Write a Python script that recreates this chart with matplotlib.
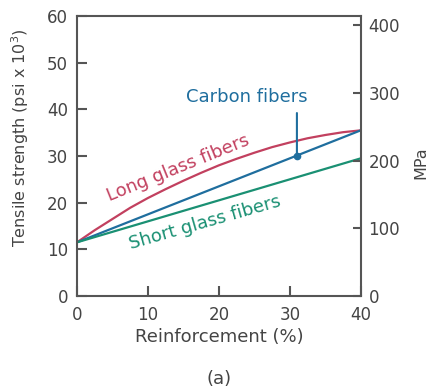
import matplotlib
matplotlib.use("Agg")
import matplotlib.pyplot as plt

plt.rcParams['font.family'] = ['DejaVu Sans']

# Data (ksi = psi x 10^3)
reinf = [0, 2.5, 5, 7.5, 10, 12.5, 15, 17.5, 20, 22.5, 25, 27.5, 30, 32.5, 35, 37.5, 40]
long_glass = [11.5, 14.1, 16.5, 18.9, 21.0, 22.9, 24.7, 26.4, 28.0, 29.4, 30.7,
              31.9, 32.9, 33.8, 34.5, 35.1, 35.5]
carbon_x = [0, 40]
carbon = [11.5, 35.5]
short_x = [0, 40]
short_glass = [11.5, 29.5]
carbon_marker = (31, 30)
ksi_to_mpa = 6.895

xticks = [0, 10, 20, 30, 40]
yticks = [0, 10, 20, 30, 40, 50, 60]
mpa_ticks = [0, 100, 200, 300, 400]

red = '#c2405f'
blue = '#1f6e9e'
green = '#1a9073'
axc = '#555555'
txt = '#444444'

fig = plt.figure(figsize=(4.3, 3.9), dpi=100)
ax = fig.add_axes([0.179, 0.241, 0.660, 0.718])

ax.plot(reinf, long_glass, color=red, lw=1.6)
ax.plot(carbon_x, carbon, color=blue, lw=1.6)
ax.plot(short_x, short_glass, color=green, lw=1.6)
ax.plot([carbon_marker[0]], [carbon_marker[1]], 'o', color=blue, ms=4.5)
ax.annotate('', xy=carbon_marker, xytext=(carbon_marker[0], 39.8),
            arrowprops=dict(arrowstyle='-', color=blue, lw=1.5))

ax.text(23.9, 42.6, 'Carbon fibers', color=blue, fontsize=13,
        ha='center', va='center')
ax.text(14.2, 27.3, 'Long glass fibers', color=red, fontsize=13,
        ha='center', va='center', rotation=22, rotation_mode='anchor')
ax.text(18.0, 15.7, 'Short glass fibers', color=green, fontsize=13,
        ha='center', va='center', rotation=16, rotation_mode='anchor')

ax.set_xlim(0, 40)
ax.set_ylim(0, 60)
ax.set_xticks(xticks)
ax.set_yticks(yticks)
for s in ax.spines.values():
    s.set_color(axc)
    s.set_linewidth(1.5)
ax.tick_params(axis='both', direction='in', length=7, width=1.5, color=axc,
               labelsize=12, labelcolor=txt)
ax.tick_params(axis='y', pad=6.5)
ax.tick_params(axis='x', pad=7)

ax2 = ax.twinx()
ax2.set_ylim(0, 60 * ksi_to_mpa)
ax2.set_yticks(mpa_ticks)
for s in ax2.spines.values():
    s.set_visible(False)
ax2.tick_params(axis='y', direction='in', length=6, width=1.5, color=axc,
                labelsize=12, labelcolor=txt, pad=5.5)

fig.text(0.047, 0.646, 'Tensile strength (psi x 10$^3$)', rotation=90,
         ha='center', va='center', fontsize=11.5, color=txt)
fig.text(0.979, 0.582, 'MPa', rotation=90, ha='center', va='center',
         fontsize=11.5, color=txt)
fig.text(0.509, 0.137, 'Reinforcement (%)', ha='center', va='center',
         fontsize=13, color=txt)
fig.text(0.509, 0.027, '(a)', ha='center', va='center', fontsize=13,
         color=txt)

fig.savefig('out.png', dpi=100)
